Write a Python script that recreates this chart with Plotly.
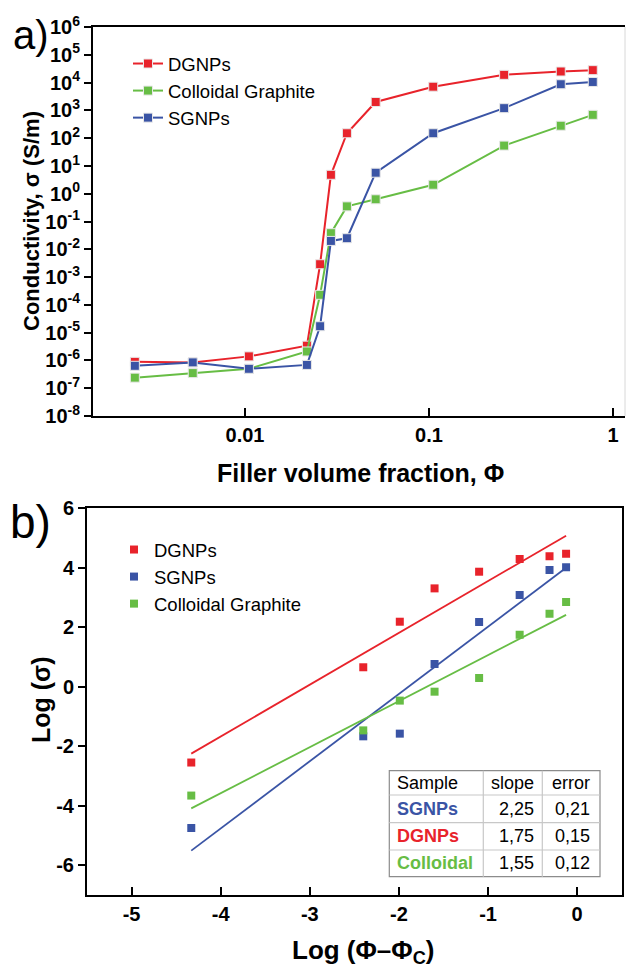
import plotly.graph_objects as go

W, H = 627, 969

# ---------------- Panel a) data ----------------
phi = [0.00252, 0.0052, 0.0105, 0.0217, 0.0256, 0.0293, 0.0358, 0.0513, 0.1054, 0.256, 0.52, 0.776]
sigma_dgnp = [8.9e-7, 8.5e-7, 1.4e-6, 3.4e-6, 2.9e-3, 4.8, 150, 2000, 7100, 1.9e4, 2.5e4, 2.8e4]
sigma_colloidal = [2.4e-7, 3.5e-7, 5.0e-7, 2.1e-6, 2.3e-4, 0.038, 0.35, 0.63, 2.1, 54, 280, 690]
sigma_sgnp = [6.4e-7, 8.5e-7, 5.0e-7, 6.9e-7, 1.7e-5, 0.020, 0.025, 5.7, 150, 1200, 8700, 1.05e4]
a_ytick_exp = [-8, -7, -6, -5, -4, -3, -2, -1, 0, 1, 2, 3, 4, 5, 6]
a_xtick_vals = [0.01, 0.1, 1]
a_xtick_text = ["0.01", "0.1", "1"]

# ---------------- Panel b) data ----------------
log_dphi = [-4.33, -2.40, -1.99, -1.60, -1.10, -0.645, -0.31, -0.124]
log_sigma_dgnp = [-2.55, 0.65, 2.18, 3.30, 3.86, 4.29, 4.38, 4.46]
log_sigma_sgnp = [-4.75, -1.67, -1.58, 0.76, 2.17, 3.08, 3.92, 4.01]
log_sigma_colloidal = [-3.66, -1.47, -0.47, -0.17, 0.29, 1.74, 2.45, 2.84]
fit_x = [-4.33, -0.124]
fit_dgnp = [-2.25, 5.07]
fit_sgnp = [-5.51, 3.99]
fit_colloidal = [-4.09, 2.41]
b_xtick_vals = [-5, -4, -3, -2, -1, 0]
b_ytick_vals = [-6, -4, -2, 0, 2, 4, 6]
table_header = ["Sample", "slope", "error"]
table_samples = ["SGNPs", "DGNPs", "Colloidal"]
table_slopes = ["2,25", "1,75", "1,55"]
table_errors = ["0,21", "0,15", "0,12"]

RED = "#e8232b"
GREEN = "#67bd45"
BLUE = "#3a54a5"
FONT = "Liberation Sans"

def px(x):
    return x / W

def py(y):
    return 1 - y / H

fig = go.Figure()

# Panel a traces
for name, vals, col in [("DGNPs", sigma_dgnp, RED),
                        ("Colloidal Graphite", sigma_colloidal, GREEN),
                        ("SGNPs", sigma_sgnp, BLUE)]:
    fig.add_trace(go.Scatter(
        x=phi, y=vals, name=name, mode="lines+markers",
        line=dict(color=col, width=2),
        marker=dict(symbol="square", size=9, color=col,
                    line=dict(color="#e8e8e8", width=1)),
        xaxis="x", yaxis="y", legend="legend"))

# Panel b traces: fit lines then points
for vals, col in [(fit_dgnp, RED), (fit_sgnp, BLUE), (fit_colloidal, GREEN)]:
    fig.add_trace(go.Scatter(
        x=fit_x, y=vals, mode="lines", line=dict(color=col, width=1.8),
        showlegend=False, xaxis="x2", yaxis="y2", hoverinfo="skip"))
for name, vals, col in [("DGNPs", log_sigma_dgnp, RED),
                        ("SGNPs", log_sigma_sgnp, BLUE),
                        ("Colloidal Graphite", log_sigma_colloidal, GREEN)]:
    fig.add_trace(go.Scatter(
        x=log_dphi, y=vals, name=name, mode="markers",
        marker=dict(symbol="square", size=8, color=col),
        xaxis="x2", yaxis="y2", legend="legend2"))

tickfont = dict(family=FONT, size=20, color="black", weight="bold")
common = dict(showline=True, linewidth=2, linecolor="black", showgrid=False,
              zeroline=False, tickwidth=2, tickcolor="black", tickfont=tickfont,
              automargin=False)

fig.update_layout(
    width=W, height=H, template="none",
    paper_bgcolor="white", plot_bgcolor="white",
    margin=dict(l=0, r=0, t=0, b=0),
    font=dict(family=FONT, color="black"),
    xaxis=dict(type="log", range=[-2.826, 0.065], domain=[px(93), px(625)],
               anchor="y", tickvals=a_xtick_vals, ticktext=a_xtick_text,
               ticks="inside", ticklen=8, mirror=True, **common),
    yaxis=dict(type="log", range=[-8, 6], domain=[py(416), py(27)],
               anchor="x",
               tickvals=[10.0 ** e for e in a_ytick_exp],
               ticktext=["10<sup>%d</sup>" % e for e in a_ytick_exp],
               ticks="outside", ticklen=7, mirror=False, **common),
    xaxis2=dict(range=[-5.5, 0.5], domain=[px(87), px(621.7)], anchor="y2",
                tickvals=b_xtick_vals, ticktext=[str(v) for v in b_xtick_vals],
                ticks="inside", ticklen=8, mirror=True, **common),
    yaxis2=dict(range=[-7, 6], domain=[py(895), py(508)], anchor="x2",
                tickvals=b_ytick_vals, ticktext=[str(v) for v in b_ytick_vals],
                ticks="outside", ticklen=7, mirror=True, **common),
    legend=dict(x=px(128), y=py(45), xanchor="left", yanchor="top",
                bgcolor="rgba(0,0,0,0)", font=dict(family=FONT, size=18.5, color="black"),
                tracegroupgap=0),
    legend2=dict(x=px(114), y=py(531), xanchor="left", yanchor="top",
                 bgcolor="rgba(0,0,0,0)", font=dict(family=FONT, size=18.5, color="black"),
                 tracegroupgap=0),
    showlegend=True,
)

shapes = []
# faint right border of panel a
shapes.append(dict(type="line", xref="paper", yref="paper",
                   x0=px(625), x1=px(625), y0=py(416), y1=py(27),
                   line=dict(color="#d8d8d8", width=1)))

# table in panel b
tx0, tx1 = 389.3, 600
ty = [770.7, 795, 822.7, 850, 876.7]
cx = [483.3, 542.3]
gray = "#8c8c8c"
shapes.append(dict(type="rect", xref="paper", yref="paper",
                   x0=px(tx0), x1=px(tx1), y0=py(ty[-1]), y1=py(ty[0]),
                   line=dict(color=gray, width=1.2), fillcolor="white", layer="above"))
for yy in ty[1:-1]:
    shapes.append(dict(type="line", xref="paper", yref="paper",
                       x0=px(tx0), x1=px(tx1), y0=py(yy), y1=py(yy),
                       line=dict(color="#c8c8c8", width=1.2)))
for xx in cx:
    shapes.append(dict(type="line", xref="paper", yref="paper",
                       x0=px(xx), x1=px(xx), y0=py(ty[-1]), y1=py(ty[0]),
                       line=dict(color="#c8c8c8", width=1.2)))
fig.update_layout(shapes=shapes)

ann = []
def text(x, y, s, size, bold=False, color="black", angle=0, xanchor="center"):
    ann.append(dict(x=px(x), y=py(y), xref="paper", yref="paper", text=s,
                    showarrow=False, xanchor=xanchor, yanchor="middle",
                    textangle=angle,
                    font=dict(family=FONT, size=size, color=color,
                              weight="bold" if bold else "normal")))

text(31, 35, "a)", 40)
text(31, 522, "b)", 46)
text(31, 221, "Conductivity, σ (S/m)", 22, bold=True, angle=-90)
text(360, 473, "Filler volume fraction, Φ", 25, bold=True)
text(41, 700, "Log (σ)", 25, bold=True, angle=-90)
text(363, 951, "Log (Φ–Φ<sub>C</sub>)", 26, bold=True)

# table text
row_y = [(ty[i] + ty[i + 1]) / 2 for i in range(4)]
text(395, row_y[0], table_header[0], 18, xanchor="left")
text(536, row_y[0], table_header[1], 18, xanchor="right")
text(592, row_y[0], table_header[2], 18, xanchor="right")
for i, (s, c) in enumerate(zip(table_samples, [BLUE, RED, GREEN])):
    text(395, row_y[i + 1], s, 18, bold=True, color=c, xanchor="left")
    text(536, row_y[i + 1], table_slopes[i], 18, xanchor="right")
    text(592, row_y[i + 1], table_errors[i], 18, xanchor="right")

fig.update_layout(annotations=ann)
fig.write_html("out.html",
               config={"displayModeBar": False},
               post_script="document.body.style.margin='0';"
                           "document.body.style.overflow='hidden';")
